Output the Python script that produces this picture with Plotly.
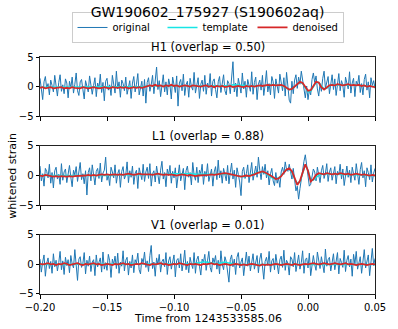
import numpy as np
import plotly.graph_objects as go
from plotly.subplots import make_subplots

# sample times (raw strain at 1 ms, denoised/template at 2 ms)
t_raw = np.round(np.arange(-0.200, 0.0505, 0.001), 3)
t_fit = np.round(np.arange(-0.200, 0.0505, 0.002), 3)

detectors = ["H1", "L1", "V1"]
overlaps = [0.50, 0.88, 0.01]

# whitened strain
h1_original = [
    1.4, -0.6, -2.2, 0.8, 1.7, -0.3, 0.5, -1.4, 1.1, 0.2,
    -0.9, 1.9, -0.4, -1.6, 0.7, 2.0, -0.8, 0.3, -1.2, 1.3,
    0.6, -1.9, 0.9, -0.2, 1.6, -1.1, 0.4, 2.3, -0.7, -1.5,
    0.8, 1.2, -0.5, -2.1, 1.0, 0.1, -0.9, 1.8, 0.4, -1.3,
    0.2, 1.5, -1.7, 0.6, -0.3, 2.1, -1.0, 0.7, -2.4, 0.9,
    1.4, -0.6, 0.3, -1.5, 1.9, 0.0, -1.1, 2.6, -0.4, 0.8,
    -1.8, 1.1, 0.5, -0.7, 1.6, -1.3, 0.2, 1.0, -2.0, 0.6,
    1.7, -0.9, 0.4, 2.2, -1.4, 0.1, 0.9, -1.6, 1.2, -2.8,
    0.7, 1.5, -0.8, 0.3, 1.9, -1.2, 0.6, 3.3, -0.5, 1.0,
    -1.7, 0.4, 2.0, -0.9, 0.8, -1.4, 1.3, 0.2, -2.1, 1.6,
    0.5, -1.0, 1.8, -3.3, 0.6, 1.2, -0.7, 2.1, -1.5, 0.3,
    0.9, -1.8, 1.4, 0.0, -0.6, 2.4, -1.1, 0.7, 1.5, -2.0,
    0.4, 1.1, -0.8, 1.9, -1.3, 0.6, -0.2, 2.2, -1.6, 0.9,
    1.3, -0.5, -1.9, 0.8, 1.7, -1.0, 0.3, 2.0, -0.7, -1.4,
    1.0, 0.5, -1.2, 1.8, 4.2, -0.9, 0.6, -1.7, 1.4, 0.2,
    -1.1, 2.3, -0.4, 0.9, -1.8, 1.2, 0.1, -0.8, 2.5, -1.3,
    0.7, 1.6, -2.2, 0.4, 1.1, -0.6, 1.9, -1.5, 0.3, 2.7,
    -0.9, 0.5, -1.4, 1.7, 0.8, -2.0, 1.3, 0.0, -1.1, 2.1,
    0.6, -0.7, 1.5, -1.6, 2.4, 0.2, -2.3, -2.8, 0.9, -1.2,
    1.1, 2.0, -0.3, 1.6, 0.4, 2.6, 0.8, -0.5, -1.9, 0.1,
    -2.2, -0.6, -1.4, 1.2, 2.3, 0.7, 1.8, -0.4, -1.6, 0.5,
    -0.8, 1.4, 2.6, -0.3, 0.9, 1.7, -1.2, 0.6, 2.0, -0.5,
    1.3, -1.5, 0.4, 2.2, -0.7, 1.0, 0.2, -1.8, 1.6, 0.8,
    -0.4, 2.5, -1.1, 0.6, 1.4, -1.7, 0.9, 0.3, 1.9, -1.0,
    0.5, -1.4, 1.2, 2.1, -0.6, 0.8, -1.9, 1.5, 0.2, 1.0,
    -0.3,
]
l1_original = [
    1.6, -0.9, 0.3, -1.8, 1.2, 0.7, -0.4, 1.9, -1.3, 0.5,
    -2.1, 0.8, 1.4, -0.6, 0.2, -1.5, 2.0, -0.8, 0.6, 1.1,
    -1.2, 0.4, 1.7, -0.3, -1.9, 0.9, 0.1, 1.5, -1.0, 0.6,
    2.2, -0.7, 0.3, -1.4, 0.8, -3.3, 0.5, 1.3, -0.9, 1.8,
    -0.2, -1.6, 0.7, 1.2, -0.5, 2.1, -1.1, 0.4, 0.9, 3.1,
    -0.8, 0.2, -1.7, 1.4, 0.6, -0.4, 1.8, -1.3, 0.3, 1.0,
    -2.0, 0.7, 1.5, -0.6, 0.1, 2.3, -1.2, 0.8, -0.3, 1.6,
    -1.5, 0.4, 0.9, -2.2, 1.3, 0.2, -0.7, 1.9, -1.0, 0.6,
    1.4, -0.5, 2.0, -1.8, 0.3, 0.8, -1.1, 1.6, -0.2, -1.4,
    0.9, 2.4, -0.6, 0.5, -1.9, 1.1, 0.0, 1.7, -1.3, 0.7,
    -0.4, 1.3, -2.1, 0.6, 1.8, -0.9, 0.4, 1.2, -2.4, 0.8,
    1.6, -0.3, 0.5, -1.6, 2.2, 0.1, -0.8, 1.4, -1.2, 0.9,
    0.3, 1.9, -1.5, 0.7, -0.2, 2.0, -1.0, 0.4, 1.1, -1.8,
    0.6, 1.5, -0.7, 2.6, -0.4, 0.8, -1.3, 1.2, 0.0, -0.9,
    1.7, -1.4, 0.5, 2.1, -0.6, 0.9, -2.0, 1.3, 0.2, -1.1,
    -3.4, 0.7, 1.4, -0.5, 0.3, 1.8, -1.2, 0.6, 2.2, -0.8,
    0.4, 1.6, -0.3, 3.1, 0.9, -0.7, 1.5, 0.2, 1.9, -0.4,
    0.8, -1.6, 0.3, 1.2, -0.9, -1.7, 0.5, -1.3, -0.4, -2.0,
    0.6, 1.4, 0.2, 2.3, 1.0, 0.7, 1.9, 0.4, -0.6, 1.2,
    -1.4, -2.6, -1.8, -4.0, -2.2, -0.5, 1.3, 2.4, 3.5, 1.6,
    0.4, -1.8, -1.5, -0.3, 1.1, 0.6, -0.9, 1.4, 0.2, -1.2,
    0.8, 1.7, -0.5, 0.4, 2.0, -1.0, 0.6, 1.3, -0.8, 0.2,
    1.5, -1.4, 0.7, 0.1, 1.9, -0.6, 1.1, -1.7, 0.5, 1.6,
    -0.3, 0.9, -1.2, 1.4, 0.3, -0.8, 2.0, 0.6, -1.5, 1.0,
    2.2, -0.4, 0.8, -1.9, 1.3, 0.5, -0.7, 1.8, -1.1, 0.4,
    1.2,
]
v1_original = [
    0.9, -1.3, 0.4, 1.6, -2.0, 0.2, 1.1, -0.7, 0.5, -1.5,
    1.8, -0.4, 0.7, -1.1, 0.3, 2.2, -0.9, 0.6, -1.7, 1.2,
    -0.2, 0.8, -1.4, 1.5, 0.1, -0.6, 2.5, -1.0, -2.7, 0.9,
    1.3, -0.5, 0.2, 2.0, -1.6, 0.7, -0.3, 1.4, -1.2, 0.4,
    0.8, -1.9, 1.6, -0.4, 0.5, 1.1, -1.3, 2.1, -0.8, 0.3,
    -1.0, 1.7, 0.6, -2.2, 0.9, 0.0, 1.4, -0.7, 1.9, -1.5,
    0.4, -0.3, 2.3, -1.1, 0.7, 1.2, -1.8, 0.5, -0.6, 1.6,
    -1.4, 0.8, 0.2, 1.9, -0.9, -1.6, 1.0, 0.3, 2.1, -0.5,
    0.6, -1.2, 1.5, 3.2, -0.7, 0.4, -2.0, 1.1, 0.0, 1.7,
    -1.3, 0.5, 0.9, -0.4, 2.0, -1.7, 0.6, 1.3, -0.8, 0.2,
    1.6, -2.1, 0.7, 1.0, -0.6, 1.8, -1.1, 0.3, 2.4, -0.9,
    0.5, -1.4, 1.2, 0.1, -0.7, 2.0, -1.5, 0.8, 1.4, -0.3,
    -1.8, 0.9, 0.4, 1.7, -1.0, 0.6, 2.2, -0.5, -1.3, 1.1,
    0.3, 1.5, -0.8, 0.7, -1.6, 2.3, 0.0, -0.9, 1.3, 0.5,
    -1.2, -3.0, 0.8, 1.6, -0.4, 0.9, -1.7, 1.2, 2.0, -0.6,
    0.4, 1.1, -1.9, 0.7, 2.1, -0.3, 1.4, -1.1, 0.6, 1.8,
    -0.8, 0.2, 1.5, -1.4, 0.9, 1.9, -0.6, -2.5, 0.5, 1.2,
    -0.2, 2.2, -1.3, 0.6, 1.0, -0.9, 1.7, 0.3, -1.6, 0.8,
    1.4, -0.5, 2.4, -1.0, 0.7, 0.2, -1.8, 1.3, 0.9, -0.4,
    2.0, -1.2, 0.5, 1.6, -0.8, 0.3, 2.3, -1.5, 0.8, 1.1,
    -0.6, 1.9, -1.9, 0.4, 1.5, 0.0, -1.0, 2.1, 0.6, -0.7,
    1.3, 0.2, -1.4, 2.6, -0.3, 0.8, 1.2, -1.1, 0.5, 1.8,
    -0.9, 0.6, 2.0, -1.6, 1.0, 0.3, -0.5, 2.4, -1.2, 0.7,
    1.5, -0.4, 0.9, -2.0, 1.7, 0.1, 2.2, -0.8, 0.4, 1.3,
    -1.5, 0.8, 2.5, -0.6, 0.3, 1.6, -1.9, 0.9, 2.7, -0.2,
    1.0,
]

h1_template = [
    -0.1, -0.1, -0.1, -0.1, -0.1, -0.1, -0.1, -0.1, -0.1, -0.1,
    -0.1, -0.1, -0.1, -0.1, -0.1, -0.1, -0.1, -0.1, -0.1, -0.1,
    -0.1, -0.1, -0.1, -0.1, -0.1, -0.1, -0.1, -0.1, -0.1, -0.1,
    -0.1, -0.1, -0.1, -0.1, -0.1, -0.1, -0.1, -0.1, 0.0, 0.0,
    0.1, 0.1, 0.1, 0.1, 0.1, 0.1, 0.1, 0.1, 0.1, 0.1,
    0.1, 0.1, 0.1, 0.1, 0.1, 0.1, 0.1, 0.1, 0.1, 0.1,
    0.1, 0.1, 0.1, 0.1, 0.1, 0.1, 0.1, 0.1, 0.1, 0.1,
    0.1, 0.2, 0.3, 0.3, 0.3, 0.3, 0.2, 0.2, 0.1, 0.1,
    0.1, 0.1, 0.1, 0.2, 0.2, 0.2, 0.3, 0.3, 0.3, 0.3,
    0.2, 0.0, -0.3, -0.5, -0.4, 0.0, 0.5, 0.8, 0.5, -0.3,
    -0.9, -0.8, 0.0, 0.7, 0.7, 0.1, -0.4, -0.3, 0.1, 0.3,
    0.3, 0.3, 0.3, 0.3, 0.3, 0.3, 0.3, 0.2, 0.2, 0.2,
    0.2, 0.1, 0.1, 0.1, 0.0, 0.0,
]
l1_template = [
    0.0, 0.0, 0.0, 0.0, -0.1, -0.1, -0.1, -0.1, -0.1, -0.1,
    -0.1, -0.1, -0.1, -0.1, 0.0, 0.0, 0.0, 0.0, 0.0, 0.0,
    0.0, 0.0, -0.1, -0.1, -0.1, -0.1, 0.0, 0.0, 0.1, 0.1,
    0.1, 0.1, 0.1, 0.1, 0.1, 0.1, 0.1, 0.1, 0.1, 0.1,
    0.1, 0.1, 0.1, 0.1, 0.1, 0.1, 0.2, 0.2, 0.2, 0.3,
    0.3, 0.4, 0.4, 0.4, 0.4, 0.4, 0.3, 0.3, 0.2, 0.2,
    0.1, 0.1, 0.1, 0.1, 0.1, 0.2, 0.2, 0.2, 0.3, 0.3,
    0.3, 0.2, 0.1, 0.0, -0.1, -0.2, -0.2, -0.1, 0.0, 0.1,
    0.3, 0.5, 0.6, 0.6, 0.4, 0.1, -0.2, -0.5, -0.6, -0.4,
    0.0, 0.6, 1.0, 1.1, 0.5, -0.6, -1.3, -1.1, 0.5, 1.8,
    0.9, -0.7, -0.8, -0.3, 0.0, 0.2, 0.2, 0.3, 0.3, 0.2,
    0.2, 0.2, 0.2, 0.2, 0.2, 0.2, 0.1, 0.1, 0.1, 0.1,
    0.1, 0.1, 0.0, 0.0, 0.0, 0.0,
]
v1_template = [
    0.0, 0.0, 0.0, 0.0, 0.0, 0.0, 0.0, 0.0, 0.0, 0.0,
    0.0, 0.0, 0.0, 0.0, 0.0, 0.0, 0.0, 0.0, 0.0, 0.0,
    0.0, 0.0, 0.0, 0.0, 0.0, 0.0, 0.0, 0.0, 0.0, 0.0,
    0.0, 0.0, 0.0, 0.0, 0.0, 0.0, 0.0, 0.0, 0.0, 0.0,
    0.0, 0.0, 0.0, 0.0, 0.0, 0.0, 0.0, 0.0, 0.0, 0.0,
    0.0, 0.0, 0.0, 0.0, 0.0, 0.0, 0.1, 0.1, 0.2, 0.3,
    0.4, 0.4, 0.4, 0.3, 0.2, 0.1, 0.1, 0.2, 0.3, 0.4,
    0.3, 0.2, 0.1, 0.0, 0.0, 0.0, 0.0, 0.0, 0.0, 0.0,
    0.0, 0.0, 0.0, 0.0, 0.0, 0.0, 0.0, 0.0, 0.0, 0.0,
    0.0, 0.0, 0.0, 0.0, 0.0, 0.0, 0.0, 0.0, 0.0, 0.0,
    0.0, 0.0, 0.0, 0.0, 0.0, 0.0, 0.0, 0.0, 0.0, 0.0,
    0.0, 0.0, 0.0, 0.0, 0.0, 0.0, 0.0, 0.0, 0.0, 0.0,
    0.0, 0.0, 0.0, 0.0, 0.0, 0.0,
]

h1_denoised = [
    -0.2, -0.1, -0.3, -0.2, -0.1, -0.3, -0.2, -0.2, -0.1, -0.3,
    -0.2, -0.3, -0.1, -0.2, -0.2, -0.3, -0.1, -0.2, -0.3, -0.2,
    -0.1, -0.2, -0.3, -0.2, -0.1, -0.2, -0.3, -0.1, -0.2, -0.2,
    -0.1, -0.2, -0.1, -0.3, -0.2, -0.1, -0.2, -0.1, -0.2, -0.1,
    0.0, 0.2, 0.1, 0.3, 0.1, 0.2, 0.0, 0.2, 0.1, 0.3,
    0.1, 0.2, 0.0, 0.1, 0.2, 0.1, 0.0, 0.2, 0.1, 0.1,
    0.0, 0.1, 0.2, 0.0, 0.1, -0.1, 0.1, 0.0, 0.1, -0.1,
    0.0, 0.1, -0.1, 0.0, 0.1, 0.0, -0.1, 0.1, 0.0, 0.1,
    0.0, 0.1, 0.2, 0.1, 0.2, 0.3, 0.2, 0.3, 0.2, 0.3,
    0.3, 0.1, -0.2, -0.5, -0.4, 0.0, 0.5, 0.8, 0.6, 0.0,
    -0.7, -0.6, 0.2, 0.8, 0.7, -0.1, -0.5, -0.2, 0.2, 0.3,
    0.2, 0.4, 0.3, 0.2, 0.3, 0.4, 0.2, 0.3, 0.2, 0.3,
    0.1, 0.2, 0.0, 0.1, 0.0, -0.1,
]
l1_denoised = [
    0.0, -0.1, 0.1, 0.0, -0.1, -0.2, -0.1, -0.2, -0.1, -0.2,
    -0.2, -0.1, -0.2, -0.1, -0.1, 0.0, -0.1, 0.0, 0.1, 0.0,
    0.1, 0.0, 0.1, 0.2, 0.1, 0.2, 0.1, 0.2, 0.2, 0.1,
    0.2, 0.1, 0.2, 0.3, 0.2, 0.1, 0.2, 0.3, 0.2, 0.2,
    0.3, 0.2, 0.1, 0.2, 0.3, 0.2, 0.1, 0.2, 0.1, 0.2,
    0.1, 0.0, 0.1, 0.2, 0.1, 0.0, 0.1, 0.0, -0.1, 0.0,
    0.0, 0.1, 0.0, 0.1, 0.2, 0.1, 0.2, 0.3, 0.3, 0.4,
    0.3, 0.2, 0.1, 0.0, -0.1, -0.2, -0.1, 0.0, -0.1, 0.0,
    0.2, 0.4, 0.6, 0.7, 0.5, 0.3, 0.0, -0.3, -0.6, -0.5,
    -0.1, 0.5, 1.0, 1.2, 0.7, -0.4, -1.6, -0.9, 0.6, 1.9,
    0.8, -1.0, -0.6, 0.1, 0.4, 0.3, 0.2, 0.4, 0.3, 0.2,
    0.3, 0.2, 0.4, 0.3, 0.2, 0.3, 0.1, 0.2, 0.3, 0.2,
    0.1, 0.2, 0.1, 0.0, 0.1, 0.0,
]
v1_denoised = [
    0.1, 0.0, 0.1, 0.2, 0.0, 0.1, -0.1, 0.1, 0.0, 0.2,
    0.1, -0.1, 0.0, 0.1, 0.2, 0.0, -0.1, 0.1, 0.0, 0.1,
    0.2, 0.0, 0.1, -0.1, 0.0, 0.1, 0.0, -0.1, 0.1, 0.0,
    0.1, 0.2, 0.0, 0.1, -0.1, 0.0, 0.1, 0.0, 0.2, 0.1,
    0.0, -0.1, 0.1, 0.0, 0.1, 0.2, 0.0, 0.1, -0.1, 0.0,
    0.1, 0.0, 0.2, 0.1, 0.0, -0.1, 0.1, 0.0, 0.1, 0.0,
    -0.1, 0.1, 0.0, 0.1, 0.2, 0.0, 0.1, -0.1, 0.0, 0.1,
    0.0, -0.1, 0.0, 0.1, 0.0, -0.1, 0.0, -0.1, 0.0, 0.1,
    0.0, -0.1, -0.2, 0.0, -0.1, 0.0, -0.1, 0.0, 0.1, 0.0,
    -0.1, 0.0, 0.1, 0.0, -0.1, 0.1, 0.0, -0.1, 0.0, 0.1,
    0.0, 0.1, 0.2, 0.1, 0.0, 0.1, 0.2, 0.1, 0.0, 0.1,
    0.2, 0.1, 0.0, 0.1, 0.2, 0.0, 0.1, 0.0, -0.1, 0.0,
    0.1, 0.0, -0.1, 0.0, 0.1, 0.0,
]

originals = [h1_original, l1_original, v1_original]
templates = [h1_template, l1_template, v1_template]
denoiseds = [h1_denoised, l1_denoised, v1_denoised]

font = "DejaVu Sans"

fig = make_subplots(
    rows=3, cols=1, shared_xaxes=True, vertical_spacing=0.1255,
    subplot_titles=[f"{d} (overlap = {o:.2f})" for d, o in zip(detectors, overlaps)],
)

for i in range(3):
    first = i == 0
    fig.add_trace(go.Scatter(x=t_raw, y=originals[i], mode="lines", name="original",
                             line=dict(color="#1f77b4", width=1), showlegend=first),
                  row=i + 1, col=1)
    fig.add_trace(go.Scatter(x=t_fit, y=templates[i], mode="lines", name="template",
                             line=dict(color="#17e5e5", width=1.5), showlegend=first),
                  row=i + 1, col=1)
    fig.add_trace(go.Scatter(x=t_fit, y=denoiseds[i], mode="lines", name="denoised",
                             line=dict(color="#d62728", width=1.8), showlegend=first),
                  row=i + 1, col=1)

fig.update_xaxes(range=[-0.2, 0.05], tickvals=[-0.2, -0.15, -0.1, -0.05, 0.0, 0.05],
                 tickformat=".2f", ticks="outside", ticklen=3.5, tickcolor="black",
                 showline=True, linecolor="#222222", linewidth=1, mirror=True,
                 showgrid=False, zeroline=False,
                 tickfont=dict(family=font, size=10, color="black"))
fig.update_yaxes(range=[-5, 5], tickvals=[-5, 0, 5], ticks="outside", ticklen=3.5,
                 tickcolor="black", showline=True, linecolor="#222222", linewidth=1,
                 mirror=True, showgrid=False, zeroline=False,
                 tickfont=dict(family=font, size=10, color="black"))

for ann in fig.layout.annotations:
    ann.font = dict(family=font, size=11.5, color="black")
    ann.yshift = 1

fig.add_annotation(text="whitened strain", textangle=-90, xref="paper", yref="paper",
                   x=-0.083, y=0.5, xanchor="center", yanchor="middle", showarrow=False,
                   font=dict(family=font, size=11, color="black"))
fig.add_annotation(text="Time from 1243533585.06", xref="paper", yref="paper",
                   x=0.5, y=-0.104, xanchor="center", yanchor="middle", showarrow=False,
                   font=dict(family=font, size=11, color="black"))

fig.update_layout(
    width=398, height=329,
    margin=dict(l=39.5, r=17.3, t=55, b=35),
    paper_bgcolor="white", plot_bgcolor="white",
    title=dict(text="GW190602_175927 (S190602aq)", x=0.5, xref="paper",
               y=1 - 12 / 329, yanchor="middle",
               font=dict(family=font, size=14, color="black")),
    legend=dict(orientation="h", x=0.5, xanchor="center", y=1.19, yanchor="top",
                bordercolor="#cccccc", borderwidth=1, bgcolor="white",
                font=dict(family=font, size=10, color="black"),
                itemwidth=30, entrywidth=45, tracegroupgap=0),
    showlegend=True,
)

fig.write_html("out.html", config={"displayModeBar": False},
               post_script="document.body.style.margin='0px';")
